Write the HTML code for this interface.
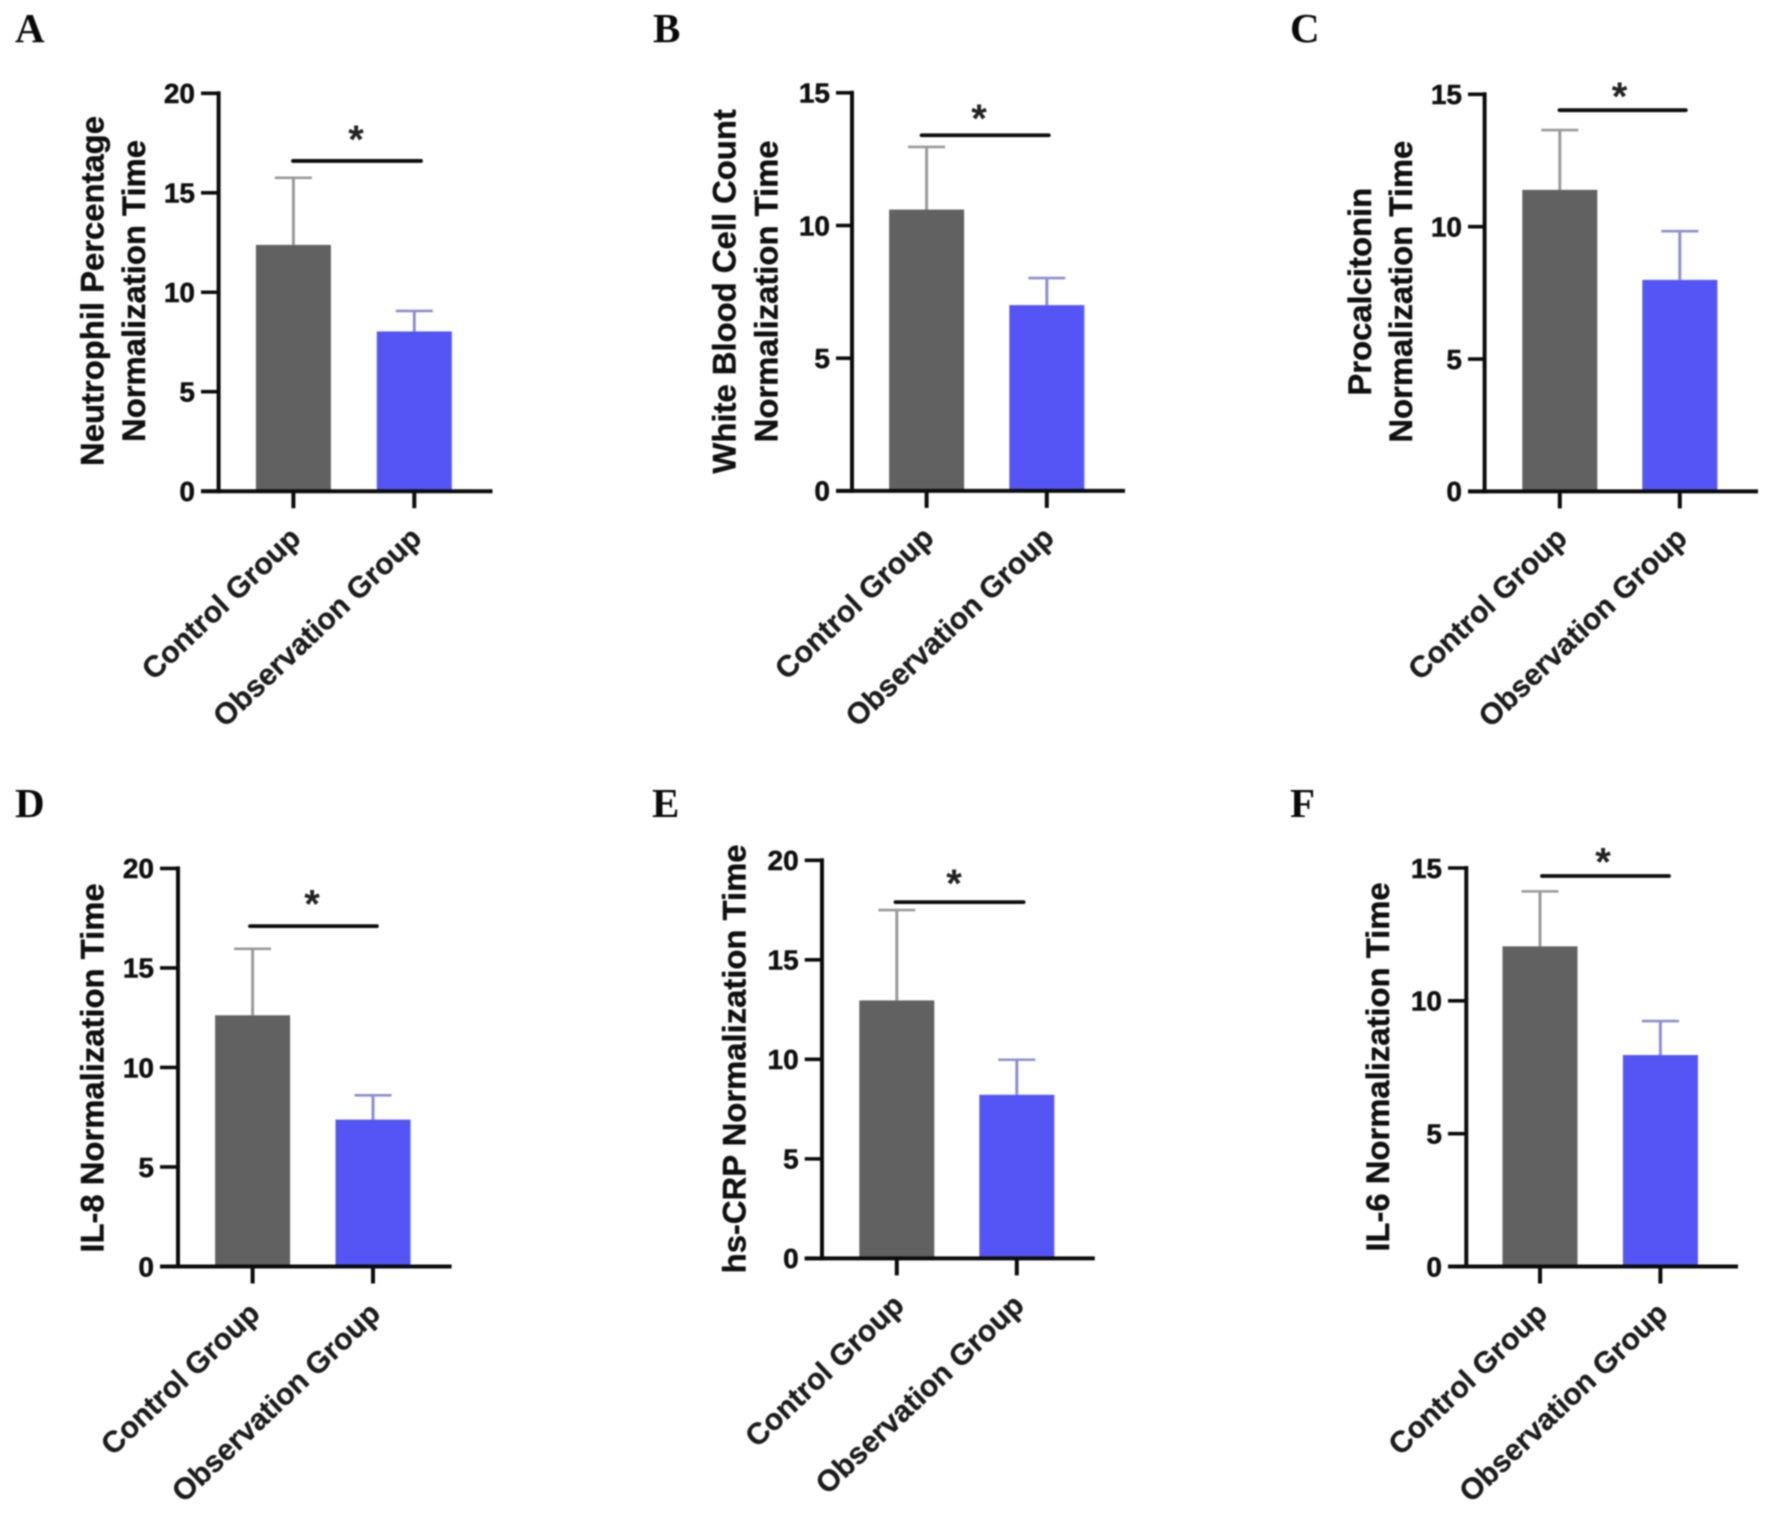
<!DOCTYPE html>
<html lang="en">
<head>
<meta charset="utf-8">
<title>Normalization Time by Group</title>
<style>
  html, body { margin: 0; padding: 0; background: #ffffff; }
  #figure { display: block; width: 1772px; height: 1517px; filter: blur(0.8px); }
  text { font-family: "Liberation Sans", Arial, sans-serif; }
</style>
</head>
<body>
<svg id="figure" xmlns="http://www.w3.org/2000/svg" width="1772" height="1517" viewBox="0 0 1772 1517"></svg>
<script>
// ---- chart values, one entry per panel (A to F) ----
const panelLetters = ['A', 'B', 'C', 'D', 'E', 'F'];
const categories = ['Control Group', 'Observation Group'];
const yTitles = [
  ['Neutrophil Percentage', 'Normalization Time'],
  ['White Blood Cell Count', 'Normalization Time'],
  ['Procalcitonin', 'Normalization Time'],
  ['IL-8 Normalization Time'],
  ['hs-CRP Normalization Time'],
  ['IL-6 Normalization Time']
];
const yTickLabels = [
  [0, 5, 10, 15, 20],
  [0, 5, 10, 15],
  [0, 5, 10, 15],
  [0, 5, 10, 15, 20],
  [0, 5, 10, 15, 20],
  [0, 5, 10, 15]
];
const controlMeans = [12.38, 10.6, 11.39, 12.62, 12.96, 12.05];
const controlErrors = [3.37, 2.36, 2.26, 3.34, 4.54, 2.07];
const observationMeans = [8.03, 7.0, 7.99, 7.38, 8.22, 7.96];
const observationErrors = [1.03, 1.02, 1.84, 1.22, 1.76, 1.28];
const significanceLevels = [16.6, 13.4, 14.4, 17.1, 17.9, 14.7];
const significanceMarks = ['*', '*', '*', '*', '*', '*'];

// ---- layout of each panel (pixels, not data) ----
const layouts = [
  { letterX: 15,   letterY: 42,  axisX: 218.6,  top: 93.3,  base: 491.2,  left: 201,  right: 492.5, c0: 293.4, c1: 414.3, sig0: 293,    sig1: 421,    starX: 356,  starY: 134,   titleX: [103.5, 145],  titleY: 291 },
  { letterX: 653,  letterY: 42,  axisX: 852,    top: 92.8,  base: 490.9,  left: 836,  right: 1125,  c0: 926.6, c1: 1046.8, sig0: 921.6, sig1: 1048.8, starX: 979, starY: 113,   titleX: [735.4, 777.5],  titleY: 291.4 },
  { letterX: 1290, letterY: 42,  axisX: 1484.6, top: 94.3,  base: 491.4,  left: 1468, right: 1758,  c0: 1559.8, c1: 1679.8, sig0: 1559.5, sig1: 1685.8, starX: 1619.6, starY: 91, titleX: [1371, 1412], titleY: 291.7 },
  { letterX: 15,   letterY: 817, axisX: 178,    top: 868.4, base: 1266.5, left: 160,  right: 451.6, c0: 252.6, c1: 373,   sig0: 250,    sig1: 376.9,  starX: 312,  starY: 898.6, titleX: [103.5],       titleY: 1068 },
  { letterX: 652,  letterY: 817, axisX: 822,    top: 860.3, base: 1258.4, left: 804.7, right: 1094.8, c0: 896.8, c1: 1016.8, sig0: 895.5, sig1: 1023.6, starX: 954, starY: 878,  titleX: [745.5],       titleY: 1058.9 },
  { letterX: 1290, letterY: 817, axisX: 1466.3, top: 868,   base: 1266.5, left: 1448, right: 1738,  c0: 1540,  c1: 1660.4, sig0: 1542,  sig1: 1669,   starX: 1603, starY: 856.5, titleX: [1389.2],      titleY: 1067 }
];

const SVG_NS = 'http://www.w3.org/2000/svg';
const figure = document.getElementById('figure');
const BAR_WIDTH = 75;
const CAP_HALF = 18.5;
const AXIS_COLOR = '#0c0c0c';
const TEXT_COLOR = '#101010';
const CONTROL_FILL = '#616161';
const OBSERVATION_FILL = '#5555f6';
const CONTROL_ERR = '#9a9a9a';
const OBSERVATION_ERR = '#8e8ed2';

function make(tag, attrs, parent) {
  const el = document.createElementNS(SVG_NS, tag);
  for (const key in attrs) el.setAttribute(key, attrs[key]);
  parent.appendChild(el);
  return el;
}

function line(parent, x1, y1, x2, y2, stroke, width) {
  return make('line', { x1: x1, y1: y1, x2: x2, y2: y2, stroke: stroke, 'stroke-width': width }, parent);
}

function drawBar(group, cx, mean, err, y, base, fill, errColor, key) {
  const stem = line(group, cx, y(mean), cx, y(mean + err), errColor, 3);
  
  

  const cap = line(group, cx - CAP_HALF, y(mean + err), cx + CAP_HALF, y(mean + err), errColor, 2.6);
  
  

  const bar = make('rect', { x: cx - BAR_WIDTH / 2, y: y(mean), width: BAR_WIDTH, height: base - y(mean), fill: fill }, group);
  
  
}

function drawPanel(i) {
  const L = layouts[i];
  const ticks = yTickLabels[i];
  const yMax = ticks[ticks.length - 1];
  const y = function (v) { return L.base - (v / yMax) * (L.base - L.top); };

  const group = make('g', {}, figure);
  
  

  const letter = make('text', { x: L.letterX, y: L.letterY, 'font-size': 41, 'font-weight': 700, fill: '#0a0a0a' }, group);
  letter.style.fontFamily = '"Liberation Serif", serif';
  letter.textContent = panelLetters[i];
  
  

  yTitles[i].forEach(function (titleLine, n) {
    const tx = L.titleX[n];
    const title = make('text', {
      x: tx, y: L.titleY, 'font-size': 32.8, 'font-weight': 700, fill: TEXT_COLOR, stroke: TEXT_COLOR, 'stroke-width': 0.4,
      'text-anchor': 'middle', transform: 'rotate(-90 ' + tx + ' ' + L.titleY + ')'
    }, group);
    title.textContent = titleLine;
    
    
  });

  drawBar(group, L.c0, controlMeans[i], controlErrors[i], y, L.base, CONTROL_FILL, CONTROL_ERR, 'control');
  drawBar(group, L.c1, observationMeans[i], observationErrors[i], y, L.base, OBSERVATION_FILL, OBSERVATION_ERR, 'observation');

  const yAxis = line(group, L.axisX, L.top - 2, L.axisX, L.base + 2, AXIS_COLOR, 4);
  
  

  const xAxis = line(group, L.left, L.base, L.right, L.base, AXIS_COLOR, 4);
  
  

  ticks.forEach(function (v) {
    const tick = line(group, L.left, y(v), L.axisX, y(v), AXIS_COLOR, 3.6);
    
    

    const label = make('text', {
      x: L.left - 6, y: y(v) + 9.8, 'font-size': 28, 'font-weight': 700, fill: TEXT_COLOR, stroke: TEXT_COLOR, 'stroke-width': 0.5, 'text-anchor': 'end'
    }, group);
    label.textContent = String(v);
    
    
  });

  [L.c0, L.c1].forEach(function (cx, n) {
    const tick = line(group, cx, L.base, cx, L.base + 17, AXIS_COLOR, 4);
    
    

    const ax = cx + 9;
    const ay = L.base + 49;
    const label = make('text', {
      x: ax, y: ay, 'font-size': 30, 'font-weight': 700, fill: '#1c1c1c', stroke: '#1c1c1c', 'stroke-width': 0.3, 'text-anchor': 'end',
      transform: 'rotate(-43.5 ' + ax + ' ' + ay + ')'
    }, group);
    label.textContent = categories[n];
    
    
  });

  const sigLine = line(group, L.sig0, y(significanceLevels[i]), L.sig1, y(significanceLevels[i]), '#0c0c0c', 3.8);
  sigLine.setAttribute('stroke-linecap', 'round');
  
  

  const star = make('text', {
    x: L.starX, y: L.starY + 19, 'font-size': 40, 'font-weight': 700, fill: '#222', 'text-anchor': 'middle'
  }, group);
  star.textContent = significanceMarks[i];
  
  
}

panelLetters.forEach(function (_, i) { drawPanel(i); });
</script>
</body>
</html>
